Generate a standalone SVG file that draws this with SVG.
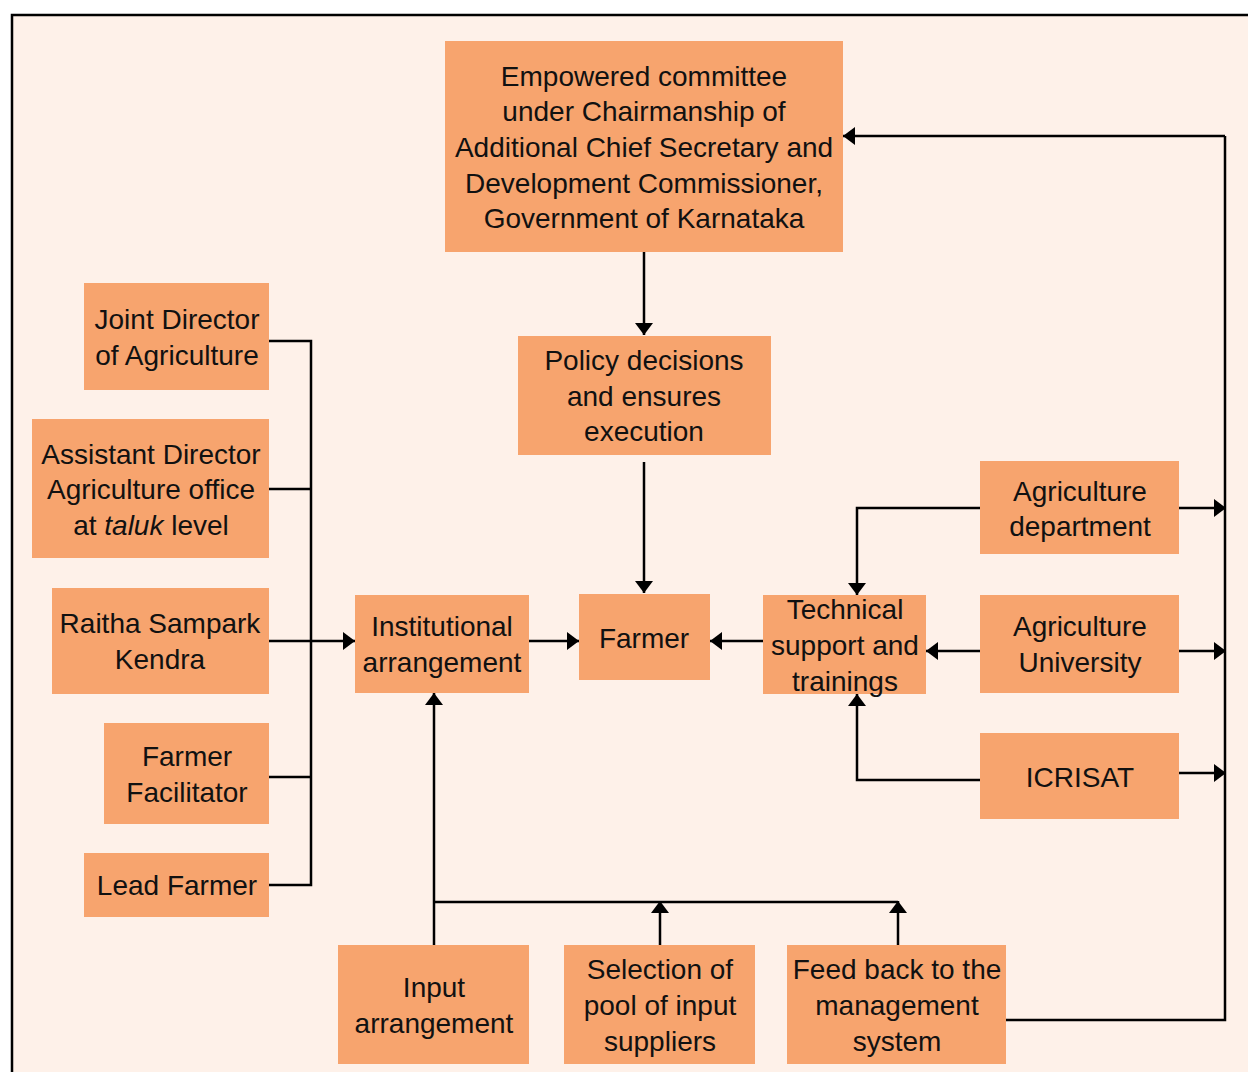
<svg xmlns="http://www.w3.org/2000/svg" width="1248" height="1072" viewBox="0 0 1248 1072">
<defs>
<marker id="ah" viewBox="0 0 12 18" refX="12" refY="9" markerWidth="12" markerHeight="18" markerUnits="userSpaceOnUse" orient="auto">
<path d="M0,0 L12,9 L0,18 z" fill="#000"/>
</marker>
<style>
.box{fill:#F7A46E;}
.t{font-family:"Liberation Sans",Arial,sans-serif;font-size:28px;fill:#111;text-anchor:middle;}
.c{fill:none;stroke:#000;stroke-width:2.5;}
.a{fill:none;stroke:#000;stroke-width:2.5;marker-end:url(#ah);}
</style>
</defs>
<rect x="0" y="0" width="1248" height="1072" fill="#fff"/>
<rect x="12" y="15" width="1260" height="1080" fill="#FEF1E9" stroke="#000" stroke-width="2.5"/>

<g id="connectors">
<path class="a" d="M644,252 V335"/>
<path class="a" d="M644,462 V593"/>
<path class="c" d="M269,341 H311 V885 H269"/>
<path class="c" d="M269,489 H311"/>
<path class="c" d="M269,777 H311"/>
<path class="a" d="M269,641 H355"/>
<path class="a" d="M529,641 H579"/>
<path class="a" d="M763,641 H710"/>
<path class="a" d="M980,651 H926"/>
<path class="a" d="M980,508 H857 V595"/>
<path class="a" d="M980,780 H857 V694"/>
<path class="a" d="M1179,508 H1226"/>
<path class="a" d="M1179,651 H1226"/>
<path class="a" d="M1179,773 H1226"/>
<path class="c" d="M1006,1020 H1225 V136"/>
<path class="a" d="M1225,136 H843"/>
<path class="a" d="M434,945 V693"/>
<path class="c" d="M434,902 H898"/>
<path class="a" d="M660,945 V901"/>
<path class="a" d="M898,945 V901"/>
</g>

<g id="empowered">
<rect class="box" x="445" y="41" width="398" height="211"/>
<text class="t" x="644" y="86">Empowered committee</text>
<text class="t" x="644" y="121">under Chairmanship of</text>
<text class="t" x="644" y="157">Additional Chief Secretary and</text>
<text class="t" x="644" y="193">Development Commissioner,</text>
<text class="t" x="644" y="228">Government of Karnataka</text>
</g>
<g id="policy">
<rect class="box" x="518" y="336" width="253" height="119"/>
<text class="t" x="644" y="370">Policy decisions</text>
<text class="t" x="644" y="406">and ensures</text>
<text class="t" x="644" y="441">execution</text>
</g>
<g id="farmer">
<rect class="box" x="579" y="594" width="131" height="86"/>
<text class="t" x="644" y="648">Farmer</text>
</g>
<g id="institutional">
<rect class="box" x="355" y="595" width="174" height="98"/>
<text class="t" x="442" y="636">Institutional</text>
<text class="t" x="442" y="672">arrangement</text>
</g>
<g id="technical">
<rect class="box" x="763" y="595" width="163" height="99"/>
<text class="t" x="845" y="619">Technical</text>
<text class="t" x="845" y="655">support and</text>
<text class="t" x="845" y="691">trainings</text>
</g>
<g id="agri-dept">
<rect class="box" x="980" y="461" width="199" height="93"/>
<text class="t" x="1080" y="501">Agriculture</text>
<text class="t" x="1080" y="536">department</text>
</g>
<g id="agri-univ">
<rect class="box" x="980" y="595" width="199" height="98"/>
<text class="t" x="1080" y="636">Agriculture</text>
<text class="t" x="1080" y="672">University</text>
</g>
<g id="icrisat">
<rect class="box" x="980" y="733" width="199" height="86"/>
<text class="t" x="1080" y="787">ICRISAT</text>
</g>
<g id="joint-director">
<rect class="box" x="84" y="283" width="185" height="107"/>
<text class="t" x="177" y="329">Joint Director</text>
<text class="t" x="177" y="365">of Agriculture</text>
</g>
<g id="assistant-director">
<rect class="box" x="32" y="419" width="237" height="139"/>
<text class="t" x="151" y="464">Assistant Director</text>
<text class="t" x="151" y="499">Agriculture office</text>
<text class="t" x="151" y="535">at <tspan font-style="italic">taluk</tspan> level</text>
</g>
<g id="raitha">
<rect class="box" x="52" y="588" width="217" height="106"/>
<text class="t" x="160" y="633">Raitha Sampark</text>
<text class="t" x="160" y="669">Kendra</text>
</g>
<g id="facilitator">
<rect class="box" x="104" y="723" width="165" height="101"/>
<text class="t" x="187" y="766">Farmer</text>
<text class="t" x="187" y="802">Facilitator</text>
</g>
<g id="lead-farmer">
<rect class="box" x="84" y="853" width="185" height="64"/>
<text class="t" x="177" y="895">Lead Farmer</text>
</g>
<g id="input">
<rect class="box" x="338" y="945" width="191" height="119"/>
<text class="t" x="434" y="997">Input</text>
<text class="t" x="434" y="1033">arrangement</text>
</g>
<g id="selection">
<rect class="box" x="564" y="945" width="191" height="119"/>
<text class="t" x="660" y="979">Selection of</text>
<text class="t" x="660" y="1015">pool of input</text>
<text class="t" x="660" y="1051">suppliers</text>
</g>
<g id="feedback">
<rect class="box" x="787" y="945" width="219" height="119"/>
<text class="t" x="897" y="979">Feed back to the</text>
<text class="t" x="897" y="1015">management</text>
<text class="t" x="897" y="1051">system</text>
</g>
</svg>
